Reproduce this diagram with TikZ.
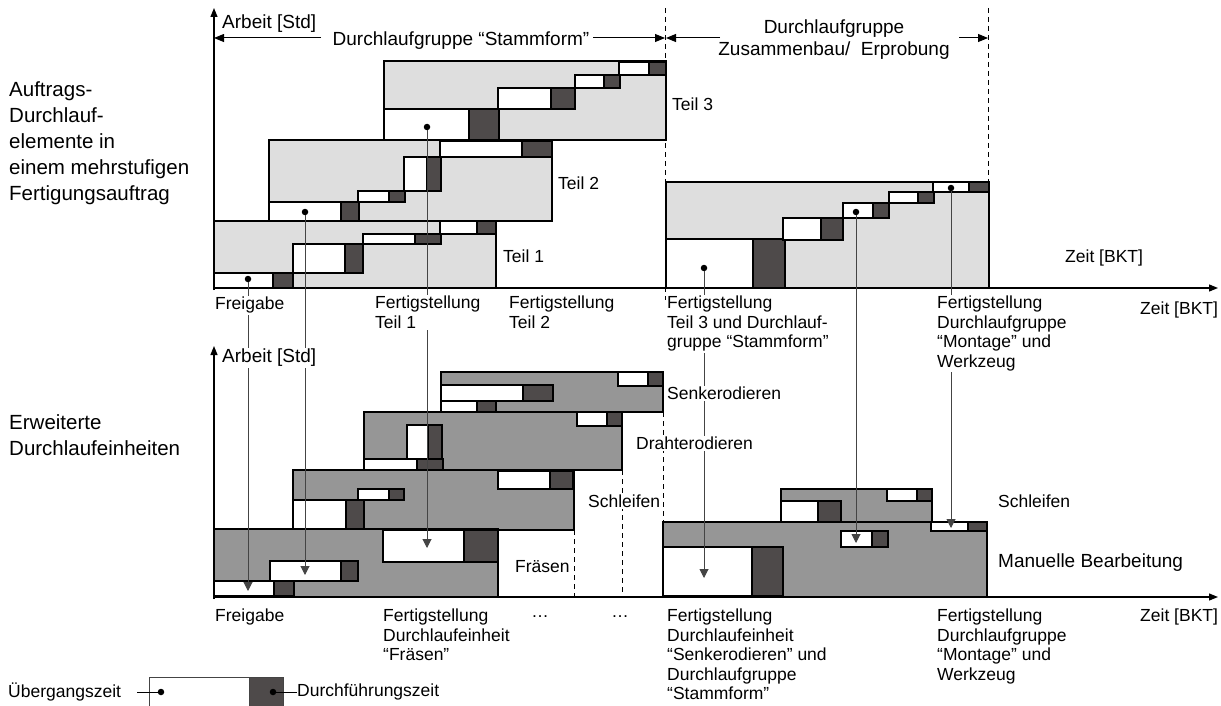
\documentclass[tikz,border=0pt]{standalone}
\usepackage{fontspec}
\setmainfont{Liberation Sans}
\usetikzlibrary{arrows.meta}
\definecolor{gA}{HTML}{DEDEDE}
\definecolor{gB}{HTML}{969696}
\definecolor{dk}{HTML}{4E4A4A}
\definecolor{ln}{HTML}{444444}
\begin{document}
\begin{tikzpicture}[x=1pt,y=-1pt,
  every node/.style={font=\fontsize{17.5}{19.5}\selectfont, inner sep=0pt},
  box1/.style={fill=gA,draw=black,line width=1.8pt},
  box2/.style={fill=gB,draw=black,line width=1.8pt},
  wb/.style={fill=white,draw=black,line width=1.2pt},
  db/.style={fill=dk,draw=black,line width=1.2pt},
  dotn/.style={circle,fill=black,minimum size=6.5pt,inner sep=0pt},
  drop/.style={draw=ln,line width=1pt,-{Triangle[length=9pt,width=9pt]}},
  axis/.style={draw=black,line width=1.2pt,-{Triangle[length=9pt,width=7pt]}},
  dim/.style={draw=black,line width=1pt,-{Triangle[length=10pt,width=8pt]}},
  dl/.style={draw=black,line width=0.8pt,dash pattern=on 5pt off 4pt},
  lbl/.style={anchor=north west,align=left,fill=white,inner sep=1pt},
  lg/.style={font=\fontsize{19}{22}\selectfont},
  big/.style={font=\fontsize{20.5}{26}\selectfont,anchor=north west,align=left}
]
\useasboundingbox (0,0) rectangle (1221,706);

% ---------- top chart boxes ----------
\draw[box1] (384,61) rectangle (666,140);
\draw[wb] (384,109) rectangle (469,140); \draw[db] (469,109) rectangle (499,140);
\draw[wb] (498,88) rectangle (551,109);  \draw[db] (551,88) rectangle (575,109);
\draw[wb] (575,75) rectangle (604,88);   \draw[db] (604,75) rectangle (620,88);
\draw[wb] (619,62) rectangle (649,75);   \draw[db] (649,62) rectangle (666,75);

\draw[box1] (269,140) rectangle (552,221);
\draw[wb] (440,141) rectangle (522,157); \draw[db] (522,141) rectangle (552,157);
\draw[wb] (404,157) rectangle (427,191); \draw[db] (427,157) rectangle (441,191);
\draw[wb] (358,191) rectangle (389,202); \draw[db] (389,191) rectangle (405,202);
\draw[wb] (269,202) rectangle (341,221); \draw[db] (341,202) rectangle (359,221);

\draw[box1] (214,221) rectangle (496,288);
\draw[wb] (440,221) rectangle (477,234); \draw[db] (477,221) rectangle (496,234);
\draw[wb] (363,234) rectangle (415,244); \draw[db] (415,234) rectangle (441,244);
\draw[wb] (293,244) rectangle (345,273); \draw[db] (345,244) rectangle (363,273);
\draw[wb] (214,273) rectangle (273,288); \draw[db] (273,273) rectangle (293,288);

\draw[box1] (666,182) rectangle (989,288);
\draw[wb] (666,239) rectangle (753,288); \draw[db] (753,239) rectangle (785,288);
\draw[wb] (783,218) rectangle (821,240); \draw[db] (821,218) rectangle (843,240);
\draw[wb] (843,203) rectangle (873,218); \draw[db] (873,203) rectangle (889,218);
\draw[wb] (889,192) rectangle (918,203); \draw[db] (918,192) rectangle (934,203);
\draw[wb] (933,182) rectangle (969,192); \draw[db] (969,182) rectangle (989,192);

% ---------- bottom chart boxes ----------
\draw[box2] (441,372) rectangle (663,412);
\draw[wb] (618,372) rectangle (648,386); \draw[db] (648,372) rectangle (663,386);
\draw[wb] (441,385) rectangle (523,401); \draw[db] (523,385) rectangle (553,401);
\draw[wb] (441,401) rectangle (477,412); \draw[db] (477,401) rectangle (496,412);

\draw[box2] (364,412) rectangle (622,470);
\draw[wb] (577,412) rectangle (607,426); \draw[db] (607,412) rectangle (622,426);
\draw[wb] (407,425) rectangle (428,459); \draw[db] (428,425) rectangle (442,459);
\draw[wb] (364,459) rectangle (417,470); \draw[db] (417,459) rectangle (443,470);

\draw[box2] (293,470) rectangle (574,530);
\draw[wb] (498,471) rectangle (550,489); \draw[db] (550,471) rectangle (573,489);
\draw[wb] (358,489) rectangle (389,500); \draw[db] (389,489) rectangle (404,500);
\draw[wb] (293,500) rectangle (346,529); \draw[db] (346,500) rectangle (364,529);

\draw[box2] (214,529) rectangle (498,597);
\draw[wb] (383,530) rectangle (464,562); \draw[db] (464,530) rectangle (498,562);
\draw[wb] (270,561) rectangle (341,581); \draw[db] (341,561) rectangle (358,581);
\draw[wb] (214,581) rectangle (274,596); \draw[db] (274,581) rectangle (294,596);

\draw[box2] (663,522) rectangle (987,597);
\draw[wb] (663,547) rectangle (752,596); \draw[db] (752,547) rectangle (783,596);
\draw[wb] (841,531) rectangle (872,547); \draw[db] (872,531) rectangle (888,547);
\draw[wb] (931,522) rectangle (968,531); \draw[db] (968,522) rectangle (987,531);
\draw[box2] (781,489) rectangle (932,522);
\draw[wb] (887,489) rectangle (917,501); \draw[db] (917,489) rectangle (932,501);
\draw[wb] (781,501) rectangle (818,522); \draw[db] (818,501) rectangle (841,522);

% ---------- dashed separators ----------
\draw[dl] (665,8) -- (665,300);
\draw[dl] (988,8) -- (988,182);
\draw[dl] (663,412) -- (663,522);
\draw[dl] (622,470) -- (622,597);
\draw[dl] (574,530) -- (574,597);

% ---------- axes ----------
\coordinate (ty0) at (214,290); \coordinate (ty1) at (214,8);
\coordinate (tx0) at (213,288); \coordinate (tx1) at (1218,288);
\coordinate (by0) at (214,599); \coordinate (by1) at (214,346);
\coordinate (bx0) at (213,597); \coordinate (bx1) at (1218,597);
\draw[axis] (ty0) -- (ty1);
\draw[axis] (tx0) -- (tx1);
\draw[axis] (by0) -- (by1);
\draw[axis] (bx0) -- (bx1);

% ---------- dimension arrows ----------
\coordinate (sA) at (321,38); \coordinate (sL) at (214,38);
\coordinate (sB) at (593,38); \coordinate (sR) at (665,38);
\coordinate (zA) at (720,38); \coordinate (zL) at (666,38);
\coordinate (zB) at (959,38); \coordinate (zR) at (988,38);
\draw[dim] (sA) -- (sL);
\draw[dim] (sB) -- (sR);
\draw[dim] (zA) -- (zL);
\draw[dim] (zB) -- (zR);

% ---------- dots and drop lines ----------
\node[dotn] (d1) at (248,279) {};
\node[dotn] (d2) at (305,212) {};
\node[dotn] (d3) at (427,127) {};
\node[dotn] (d4) at (704,268) {};
\node[dotn] (d5) at (856,212) {};
\node[dotn] (d6) at (951,188) {};
\coordinate (e1) at (248,591);
\coordinate (e2) at (305,575);
\coordinate (e3) at (427,548);
\coordinate (e4) at (704,578);
\coordinate (e5) at (856,543);
\coordinate (e6) at (951,528);
\draw[drop] (d1) -- (e1);
\draw[drop] (d2) -- (e2);
\draw[drop] (d3) -- (e3);
\draw[drop] (d4) -- (e4);
\draw[drop] (d5) -- (e5);
\draw[drop] (d6) -- (e6);

% ---------- labels ----------
\node[big] (lt) at (9,81) {Auftrags-\\Durchlauf-\\elemente in\\einem mehrstufigen\\Fertigungsauftrag};
\node[big] (lb) at (9,414) {Erweiterte\\Durchlaufeinheiten};

\node[lbl,lg] (ta) at (221,14) {Arbeit [Std]};
\node[anchor=north,fill=white,inner sep=1pt,lg] (sg) at (461,31) {Durchlaufgruppe “Stammform”};
\node[anchor=north,align=center,font=\fontsize{19}{22}\selectfont] (zg) at (834,20) {Durchlaufgruppe\\Zusammenbau/\ \ Erprobung};

\node[lbl] (t3) at (671,97) {Teil 3};
\node[lbl] (t2) at (557,176) {Teil 2};
\node[lbl] (t1) at (502,249) {Teil 1};
\node[lbl] (tz1) at (1064,249) {Zeit [BKT]};

\node[lbl] (f0) at (214,296) {Freigabe};
\node[lbl] (f1) at (374,295) {Fertigstellung\\Teil 1};
\node[lbl] (f2) at (508,295) {Fertigstellung\\Teil 2};
\node[lbl] (f3) at (666,295) {Fertigstellung\\Teil 3 und Durchlauf-\\gruppe “Stammform”};
\node[lbl] (f4) at (936,295) {Fertigstellung\\Durchlaufgruppe\\“Montage” und\\Werkzeug};
\node[lbl] (tz2) at (1139,301) {Zeit [BKT]};

\node[lbl,lg] (ba) at (221,348) {Arbeit [Std]};
\node[lbl] (se) at (666,386) {Senkerodieren};
\node[lbl] (dr) at (635,436) {Drahterodieren};
\node[lbl] (sl) at (587,494) {Schleifen};
\node[lbl] (fr) at (514,559) {Fräsen};
\node[lbl] (sl2) at (997,494) {Schleifen};
\node[lbl,lg] (mb) at (997,553) {Manuelle Bearbeitung};

\node[lbl] (g0) at (214,608) {Freigabe};
\node[lbl] (g1) at (382,608) {Fertigstellung\\Durchlaufeinheit\\“Fräsen”};
\node (dd1) at (540,617) {…};
\node (dd2) at (620,617) {…};
\node[lbl] (g3) at (666,608) {Fertigstellung\\Durchlaufeinheit\\“Senkerodieren” und\\Durchlaufgruppe\\“Stammform”};
\node[lbl] (g4) at (936,608) {Fertigstellung\\Durchlaufgruppe\\“Montage” und\\Werkzeug};
\node[lbl] (bz) at (1139,608) {Zeit [BKT]};

% ---------- legend ----------
\fill[white] (149,677) rectangle (249,707);
\fill[dk] (249,677) rectangle (283,707);
\draw[draw=ln,line width=1pt] (149,707) -- (149,677) -- (283,677) -- (283,707);
\draw[draw=ln,line width=1pt] (249,677) -- (249,707);
\node[anchor=west] (lu) at (8,692) {Übergangszeit};
\node[anchor=west] (ld) at (297,692) {Durchführungszeit};
\node[dotn] (ld1) at (161,692) {};
\node[dotn] (ld2) at (273,692) {};
\coordinate (lgA) at (137,692);
\draw[line width=1pt] (lgA) -- (ld1);
\draw[line width=1pt] (ld2) -- (ld.west);
\end{tikzpicture}
\end{document}
